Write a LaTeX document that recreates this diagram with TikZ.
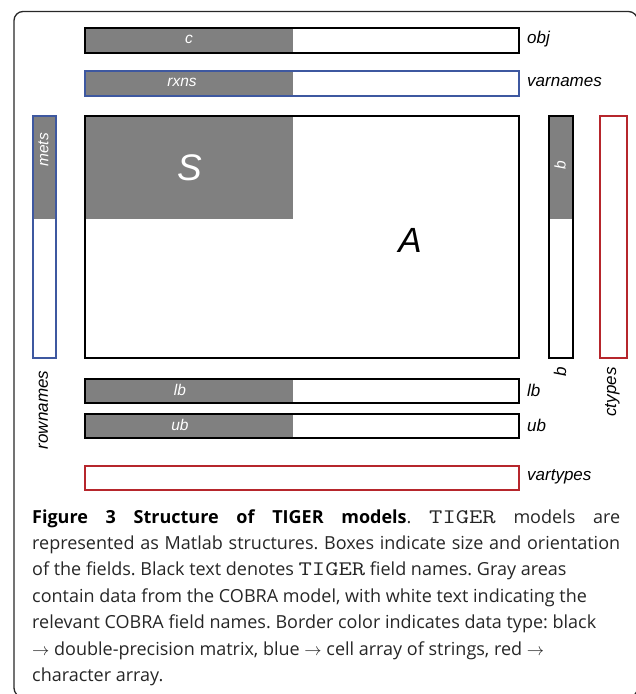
\documentclass[tikz,border=0pt]{standalone}
\usepackage{fontspec}
\setmainfont{Open Sans}
\setsansfont{Liberation Sans}
\setmonofont[Scale=1.15, FakeStretch=1.25]{Latin Modern Mono}
\definecolor{fieldgray}{RGB}{128,128,128}
\definecolor{cellblue}{RGB}{62,88,160}
\definecolor{charred}{RGB}{182,38,44}
\definecolor{framegray}{RGB}{40,40,40}
\tikzset{
  field/.style={rectangle, inner sep=0pt, anchor=north west, line width=1.8pt, draw=black},
  cellfield/.style={field, draw=cellblue, line width=1.7pt},
  charfield/.style={field, draw=charred, line width=1.7pt},
  cobra/.style={rectangle, inner sep=0pt, anchor=north west, fill=fieldgray},
  cobraname/.style={text=white, font=\sffamily\itshape\fontsize{15.5}{18}\selectfont, inner sep=0pt},
  tigername/.style={text=black, font=\sffamily\itshape\fontsize{17}{20}\selectfont, inner sep=0pt},
}
\begin{document}
\begin{tikzpicture}[x=1pt, y=-1pt]
\useasboundingbox (0,0) rectangle (636,694);
% outer frame
\begin{scope}
\clip (0,0) rectangle (636,694);
\draw[framegray, line width=1.3pt, rounded corners=9pt] (14,11.5) rectangle (637.5,697);
\end{scope}

% objective row
\node[cobra, minimum width=209pt, minimum height=25pt] (cgray) at (84,27) {};
\node[field, minimum width=434pt, minimum height=25pt] (obj) at (84,27) {};
\node[cobraname] (ctext) at (189,39.5) {c};
\node[tigername, anchor=west] (objlab) at (527,39.5) {obj};

% variable names row
\node[cobra, minimum width=209pt, minimum height=25pt] (rxgray) at (84,70) {};
\node[cellfield, minimum width=434pt, minimum height=25pt] (varnames) at (84,70) {};
\node[cobraname] (rxtext) at (182,82.5) {rxns};
\node[tigername, anchor=west] (varlab) at (527,82.5) {varnames};

% constraint matrix
\node[cobra, minimum width=209pt, minimum height=104pt] (Sgray) at (84,115) {};
\node[field, minimum width=434pt, minimum height=242pt] (A) at (84,115) {};
\node[text=white, font=\sffamily\itshape\fontsize{37}{40}\selectfont, inner sep=0pt] (Stext) at (190,168) {S};
\node[font=\sffamily\itshape\fontsize{35}{38}\selectfont, inner sep=0pt] (Atext) at (410,240) {A};

% row names column
\node[cobra, minimum width=23pt, minimum height=104pt] (metsgray) at (32,115) {};
\node[cellfield, minimum width=23pt, minimum height=242pt] (rownames) at (32,115) {};
\node[cobraname, rotate=90] (metstext) at (43.5,150) {mets};
\node[tigername, rotate=90] (rowlab) at (43.5,410) {rownames};

% right-hand side column
\node[cobra, minimum width=24pt, minimum height=104pt] (bgray) at (548,115) {};
\node[field, minimum width=24pt, minimum height=242pt] (b) at (548,115) {};
\node[cobraname, rotate=90] (btext) at (560,165) {b};
\node[tigername, rotate=90] (blab) at (560,372) {b};

% constraint types column
\node[charfield, minimum width=27pt, minimum height=242pt] (ctypes) at (599,115) {};
\node[tigername, rotate=90] (ctlab) at (612.5,392) {ctypes};

% lower bounds
\node[cobra, minimum width=209pt, minimum height=24pt] (lbgray) at (84,378) {};
\node[field, minimum width=434pt, minimum height=24pt] (lb) at (84,378) {};
\node[cobraname] (lbtext) at (180,390) {lb};
\node[tigername, anchor=west] (lblab) at (527,390) {lb};

% upper bounds
\node[cobra, minimum width=209pt, minimum height=24pt] (ubgray) at (84,413) {};
\node[field, minimum width=434pt, minimum height=24pt] (ub) at (84,413) {};
\node[cobraname] (ubtext) at (180,425) {ub};
\node[tigername, anchor=west] (ublab) at (527,425) {ub};

% variable types
\node[charfield, minimum width=434pt, minimum height=24pt] (vartypes) at (84,465) {};
\node[tigername, anchor=west] (vtlab) at (527,477) {vartypes};

% caption
\node[anchor=base west, inner sep=0pt, text width=588pt, align=justify,
      font=\fontsize{18}{26.4}\selectfont\frenchspacing, text=black!85] (caption) at (32,523) {%
\textbf{\color{black}Figure 3 Structure of TIGER models}. \texttt{TIGER} models are\linebreak
represented as Matlab structures. Boxes indicate size and orientation\linebreak
of the fields. Black text denotes \texttt{TIGER} field names. Gray areas\\
contain data from the COBRA model, with white text indicating the\\
relevant COBRA field names. Border color indicates data type: black\\
$\rightarrow$ double-precision matrix, blue $\rightarrow$ cell array of strings, red $\rightarrow$\\
character array.};
\end{tikzpicture}
\end{document}
